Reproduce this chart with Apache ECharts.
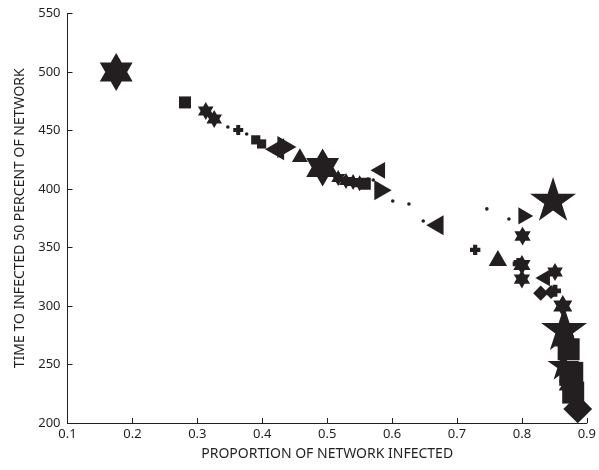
<!DOCTYPE html>
<html>
<head>
<meta charset="utf-8">
<script src="https://cdn.jsdelivr.net/npm/echarts@6/dist/echarts.min.js"></script>
<style>
  html, body { margin: 0; padding: 0; background: #fff; }
  #main { width: 599px; height: 470px; }
</style>
</head>
<body>
<div id="main"></div>
<script>
// [proportion infected, time to 50%, weight]  (weight -> marker size)
var hexagrams = [
  [0.175, 500, 9.5],
  [0.313, 466.7, 4.5],
  [0.326, 459.8, 4.5],
  [0.493, 418.4, 9.5],
  [0.517, 409.4, 4],
  [0.529, 406.8, 4],
  [0.540, 406, 4],
  [0.550, 405, 4],
  [0.801, 359.8, 4.7],
  [0.800, 335, 5],
  [0.800, 323, 4.7],
  [0.851, 329, 4.5],
  [0.863, 300, 5.5],
  [0.866, 270, 5.5],
  [0.870, 232, 5]
];
var pentagrams = [
  [0.848, 391.5, 11.5],
  [0.865, 281, 11.5],
  [0.864, 250, 8]
];
var diamonds = [
  [0.829, 311, 3.8],
  [0.845, 312, 3.5],
  [0.886, 212, 7.2]
];
var squares = [
  [0.281, 474, 3],
  [0.390, 442, 2.3],
  [0.399, 438.5, 2.3],
  [0.558, 404.5, 3],
  [0.872, 263, 5.5],
  [0.876, 242, 6],
  [0.879, 226, 5.5]
];
var pluses = [
  [0.363, 450.4, 2.5],
  [0.728, 348, 2.6],
  [0.795, 336, 3],
  [0.851, 313, 3]
];
var triLeft = [
  [0.419, 434, 5.5],
  [0.578, 416, 4.2],
  [0.666, 369, 5],
  [0.832, 324, 4.2]
];
var triRight = [
  [0.438, 436, 5.5],
  [0.586, 399, 5],
  [0.806, 377, 4.3]
];
var triUp = [
  [0.458, 429, 4],
  [0.763, 341, 4.6]
];
var dots = [
  [0.347, 453, 0.9],
  [0.376, 447, 0.9],
  [0.563, 408.5, 0.9],
  [0.571, 407.7, 0.9],
  [0.601, 389.7, 0.9],
  [0.626, 387.2, 0.9],
  [0.648, 372.6, 0.9],
  [0.746, 383, 0.9],
  [0.780, 374.4, 0.9]
];
var xTicks = [0.1, 0.9, 0.1];   // min, max, step
var yTicks = [200, 550, 50];

var ink = '#231f20';
var font = 'Noto Sans';

function starPath(n, inner) {
  var pts = [];
  for (var i = 0; i < 2 * n; i++) {
    var r = i % 2 === 0 ? 1 : inner;
    var a = -Math.PI / 2 + i * Math.PI / n;
    pts.push((r * Math.cos(a) * 100).toFixed(2) + ',' + (r * Math.sin(a) * 100).toFixed(2));
  }
  return 'path://M' + pts.join(' L') + ' Z';
}

var symbols = {
  hex: starPath(6, 1 / Math.sqrt(3)),
  pent: starPath(5, 0.382),
  plus: 'path://M-1.2,-3 H1.2 V-1.2 H3 V1.2 H1.2 V3 H-1.2 V1.2 H-3 V-1.2 H-1.2 Z',
  left: 'path://M0,50 L86.6,0 L86.6,100 Z',
  right: 'path://M86.6,50 L0,0 L0,100 Z',
  up: 'path://M50,0 L100,86.6 L0,86.6 Z',
  square: 'rect',
  diamond: 'diamond',
  dot: 'circle'
};

function mk(name, data, sym) {
  return {
    name: name,
    type: 'scatter',
    data: data,
    symbol: symbols[sym],
    symbolKeepAspect: true,
    itemStyle: { color: ink, opacity: 1 },
    emphasis: { disabled: true }
  };
}

var chart = echarts.init(document.getElementById('main'), null, { renderer: 'canvas' });
var option = {
  animation: false,
  textStyle: { fontFamily: font },
  grid: { left: 67.5, right: 12, top: 13.5, bottom: 47 },
  visualMap: {
    type: 'continuous',
    show: false,
    dimension: 2,
    min: 0,
    max: 12,
    inRange: { symbolSize: [0, 48], color: [ink, ink] }
  },
  xAxis: {
    type: 'value',
    min: xTicks[0],
    max: xTicks[1],
    interval: xTicks[2],
    name: 'PROPORTION OF NETWORK INFECTED',
    nameLocation: 'middle',
    nameGap: 24,
    nameTextStyle: { fontSize: 14, color: ink, fontFamily: font },
    axisLine: { show: true, onZero: false, lineStyle: { color: ink, width: 1 } },
    axisTick: { show: true, inside: true, length: 5, lineStyle: { color: ink } },
    axisLabel: { fontSize: 13, color: ink, margin: 5, fontFamily: font,
      formatter: function (v) { return v.toFixed(1); } },
    splitLine: { show: false }
  },
  yAxis: {
    type: 'value',
    min: yTicks[0],
    max: yTicks[1],
    interval: yTicks[2],
    name: 'TIME TO INFECTED 50 PERCENT OF NETWORK',
    nameLocation: 'middle',
    nameGap: 39,
    nameTextStyle: { fontSize: 14, color: ink, fontFamily: font },
    axisLine: { show: true, onZero: false, lineStyle: { color: ink, width: 1 } },
    axisTick: { show: true, inside: true, length: 5, lineStyle: { color: ink } },
    axisLabel: { fontSize: 13, color: ink, margin: 7, fontFamily: font },
    splitLine: { show: false }
  },
  series: [
    mk('hexagram', hexagrams, 'hex'),
    mk('pentagram', pentagrams, 'pent'),
    mk('diamond', diamonds, 'diamond'),
    mk('square', squares, 'square'),
    mk('plus', pluses, 'plus'),
    mk('left', triLeft, 'left'),
    mk('right', triRight, 'right'),
    mk('up', triUp, 'up'),
    mk('dot', dots, 'dot')
  ]
};
chart.setOption(option);
</script>
</body>
</html>
